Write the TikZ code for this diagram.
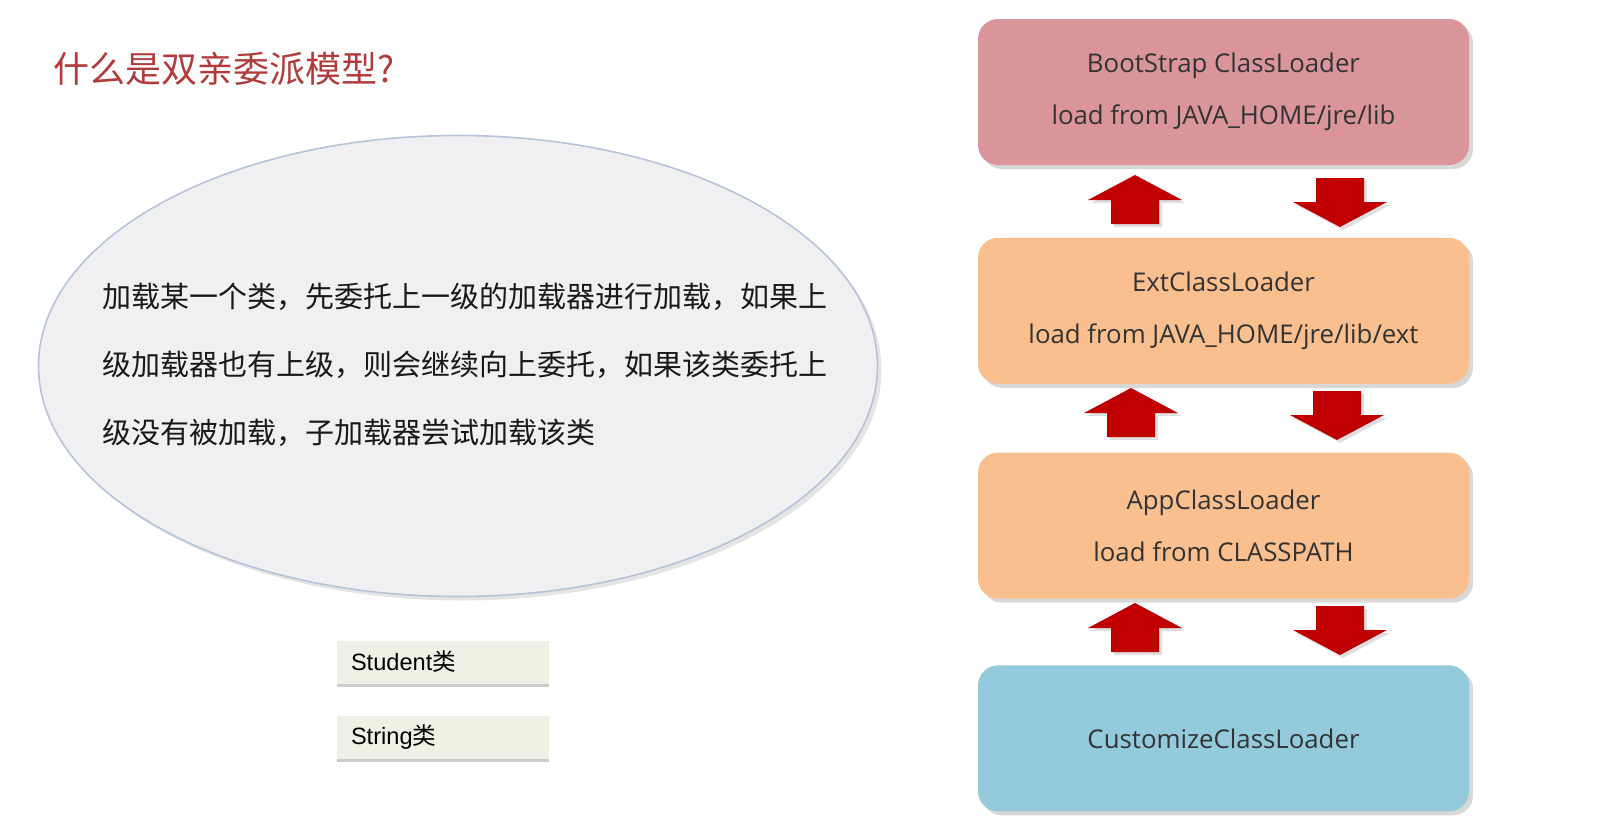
\documentclass[tikz,border=0pt]{standalone}
\usepackage{fontspec}
\setmainfont{Open Sans}
\newfontfamily\cjk{Noto Sans CJK SC}
\newfontfamily\arialfont{Liberation Sans}
\usetikzlibrary{shapes.geometric,shadows,positioning}

\definecolor{titlered}{HTML}{B23B3B}
\definecolor{bootfill}{HTML}{D9959A}
\definecolor{extfill}{HTML}{F9BF8F}
\definecolor{customfill}{HTML}{93CBDC}
\definecolor{arrowred}{HTML}{C00000}
\definecolor{bubblefill}{HTML}{F0F0F2}
\definecolor{bubbleline}{HTML}{B7C3D9}
\definecolor{classfill}{HTML}{EEF1E3}

\tikzset{
  loader/.style={rounded corners=10pt, minimum width=245.5pt, minimum height=73pt,
    align=center, text=black!80, font=\fontsize{12.9}{26}\selectfont,
    drop shadow={shadow xshift=2pt, shadow yshift=-2pt, opacity=0.3}},
  blockarrow/.style={fill=arrowred,
    drop shadow={shadow xshift=1.5pt, shadow yshift=-1.5pt, opacity=0.25}},
  classbox/.style={fill=classfill, minimum width=106pt, minimum height=21.5pt,
    inner xsep=7pt, text width=92pt, align=left, font=\fontsize{11.8}{13}\selectfont,
    drop shadow={shadow xshift=0pt, shadow yshift=-1.5pt, opacity=0.4}}
}

\begin{document}
\begin{tikzpicture}[x=0.5pt,y=-0.5pt]
  \useasboundingbox[fill=white] (0,0) rectangle (1600,815);

  % title
  \node[anchor=west, inner sep=0pt, text=titlered, font=\cjk\fontsize{18}{20}\selectfont]
    (title) at (53,69) {什么是双亲委派模型?};

  % explanation bubble
  \node[ellipse, draw=bubbleline, line width=0.8pt, fill=bubblefill,
    minimum width=419.5pt, minimum height=230.5pt,
    drop shadow={shadow xshift=2pt, shadow yshift=-2pt, opacity=0.2}]
    (desc) at (458,366) {};
  \node[text width=350pt, align=left, inner sep=0pt, text=black!90,
    font=\cjk\fontsize{14.5}{34}\selectfont]
    (desctext) at (452,365) {加载某一个类，先委托上一级的加载器进行加载，如果上\\
    级加载器也有上级，则会继续向上委托，如果该类委托上\\
    级没有被加载，子加载器尝试加载该类};

  % classes
  \node[classbox] (student) at (443,662) {{\arialfont Student}{\cjk 类}};
  \node[classbox] (string) at (443,737) {{\arialfont String}{\cjk 类}};

  % class loaders
  \node[loader, fill=bootfill] (boot) at (1223.5,92) {BootStrap ClassLoader\\load from JAVA\_HOME/jre/lib};
  \node[loader, fill=extfill, below=36pt of boot] (ext) {ExtClassLoader\\load from JAVA\_HOME/jre/lib/ext};
  \node[loader, fill=extfill, below=34pt of ext] (app) {AppClassLoader\\load from CLASSPATH};
  \node[loader, fill=customfill, below=33pt of app] (custom) {CustomizeClassLoader};

  % delegation arrows
  \path[blockarrow] (1135,175) -- ++(47,25) -- ++(-23,0) -- ++(0,24) -- ++(-48,0) -- ++(0,-24) -- ++(-23,0) -- cycle;
  \path[blockarrow] (1340,227) -- ++(47,-25) -- ++(-23,0) -- ++(0,-24) -- ++(-48,0) -- ++(0,24) -- ++(-23,0) -- cycle;
  \path[blockarrow] (1131,388) -- ++(47,25) -- ++(-23,0) -- ++(0,24) -- ++(-48,0) -- ++(0,-24) -- ++(-23,0) -- cycle;
  \path[blockarrow] (1337,440) -- ++(47,-25) -- ++(-23,0) -- ++(0,-24) -- ++(-48,0) -- ++(0,24) -- ++(-23,0) -- cycle;
  \path[blockarrow] (1135,603) -- ++(47,25) -- ++(-23,0) -- ++(0,24) -- ++(-48,0) -- ++(0,-24) -- ++(-23,0) -- cycle;
  \path[blockarrow] (1340,655) -- ++(47,-25) -- ++(-23,0) -- ++(0,-24) -- ++(-48,0) -- ++(0,24) -- ++(-23,0) -- cycle;
\end{tikzpicture}
\end{document}
